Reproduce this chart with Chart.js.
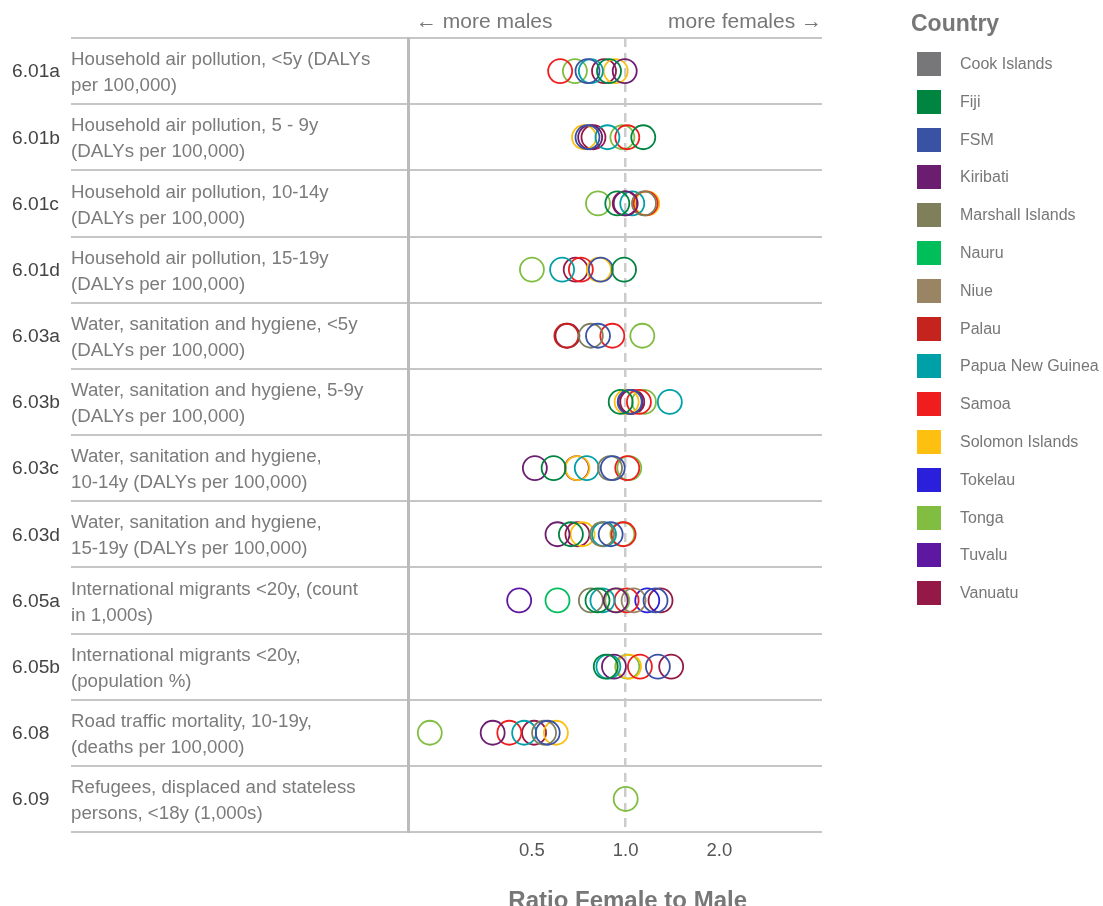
<!DOCTYPE html>
<html>
<head>
<meta charset="utf-8">
<script src="https://cdn.jsdelivr.net/npm/chart.js@4.4.1/dist/chart.umd.min.js"></script>
<style>
  html, body { margin: 0; padding: 0; background: #fff; }
  #wrap { position: relative; width: 1103px; height: 906px; overflow: hidden; font-family: "Liberation Sans", Arial, sans-serif; }
  #chart { position: absolute; left: 0; top: 0; }
  #legend { position: absolute; left: 911px; top: 0; width: 192px; }
  #legend .title { position: absolute; left: 0; top: 10px; font-weight: bold; font-size: 23px; color: #777; white-space: nowrap; }
  #legend .item { position: absolute; left: 6px; height: 24px; white-space: nowrap; }
  #legend .sw { position: absolute; left: 0; top: 0; width: 24px; height: 24px; }
  #legend .lb { position: absolute; left: 43px; top: 3px; font-size: 16px; line-height: 18px; color: #777; }
</style>
</head>
<body>
<div id="wrap">
  <canvas id="chart" width="1103" height="906"></canvas>
  <div id="legend"></div>
</div>
<script>
// ---- categories ----
const CODES = ['6.01a','6.01b','6.01c','6.01d','6.03a','6.03b','6.03c','6.03d','6.05a','6.05b','6.08','6.09'];
const DESCRIPTIONS = [
  ['Household air pollution, <5y (DALYs', 'per 100,000)'],
  ['Household air pollution, 5 - 9y', '(DALYs per 100,000)'],
  ['Household air pollution, 10-14y', '(DALYs per 100,000)'],
  ['Household air pollution, 15-19y', '(DALYs per 100,000)'],
  ['Water, sanitation and hygiene, <5y', '(DALYs per 100,000)'],
  ['Water, sanitation and hygiene, 5-9y', '(DALYs per 100,000)'],
  ['Water, sanitation and hygiene,', '10-14y (DALYs per 100,000)'],
  ['Water, sanitation and hygiene,', '15-19y (DALYs per 100,000)'],
  ['International migrants <20y, (count', 'in 1,000s)'],
  ['International migrants <20y,', '(population %)'],
  ['Road traffic mortality, 10-19y,', '(deaths per 100,000)'],
  ['Refugees, displaced and stateless', 'persons, <18y (1,000s)']
];
const COUNTRIES = ['Cook Islands','Fiji','FSM','Kiribati','Marshall Islands','Nauru','Niue','Palau','Papua New Guinea','Samoa','Solomon Islands','Tokelau','Tonga','Tuvalu','Vanuatu'];
const TICK_VALUES = [0.5, 1, 2];

// ---- series values (ratio female to male), one entry per category ----
const COOK_ISLANDS = [null,null,null,null,null,null,null,null,null,null,null,null];
const FIJI         = [0.884,1.139,0.94,0.988,null,0.964,0.587,0.667,0.812,0.863,null,null];
const FSM          = [0.754,0.754,null,0.832,0.815,1.03,0.909,0.895,1.247,1.269,0.562,null];
const KIRIBATI     = [0.993,0.769,1.0,null,null,1.037,0.511,0.604,0.929,0.917,0.374,null];
const MARSHALL     = [null,null,1.145,null,0.773,null,0.891,0.84,0.773,null,0.547,null];
const NAURU        = [null,null,null,null,null,null,null,null,0.604,null,null,null];
const NIUE         = [null,null,null,null,null,null,null,null,1.06,null,null,null];
const PALAU        = [null,null,null,null,0.645,null,null,null,null,null,null,null];
const PNG          = [0.773,0.874,1.05,0.625,null,1.386,0.75,0.852,0.842,0.88,0.472,null];
const SAMOA        = [0.616,1.012,1.159,0.718,0.906,1.103,1.012,0.985,1.007,1.111,0.423,null];
const SOLOMON      = [0.929,0.735,1.173,0.821,null,1.007,0.70,0.727,null,1.025,0.597,null];
const TOKELAU      = [null,null,null,null,null,null,null,null,1.173,null,null,null];
const TONGA        = [0.687,0.976,0.815,0.5,1.131,1.145,1.027,0.976,0.94,1.012,0.235,1.0];
const TUVALU       = [null,null,null,null,null,null,null,null,0.455,null,null,null];
const VANUATU      = [0.852,0.788,0.993,0.691,0.65,1.05,0.697,0.70,1.294,1.4,0.508,null];

const SERIES = [COOK_ISLANDS,FIJI,FSM,KIRIBATI,MARSHALL,NAURU,NIUE,PALAU,PNG,SAMOA,SOLOMON,TOKELAU,TONGA,TUVALU,VANUATU];

// ---- styles ----
const COLORS = ['#77777a','#008540','#3a52a4','#6b1e6f','#7f805b','#00bf5b','#998463','#c4241d','#00a0a8','#ef1d1d','#fdc010','#2a20db','#80bd41','#5e17a1','#951946'];
const FONT = '"Liberation Sans", Arial, sans-serif';

const datasets = COUNTRIES.map((name, k) => ({
  label: name,
  data: SERIES[k].map((v, i) => v == null ? null : { x: v, y: CODES[i] }).filter(Boolean),
  borderColor: COLORS[k],
  backgroundColor: 'rgba(0,0,0,0)',
  pointRadius: 12,
  pointBorderWidth: 1.8,
  pointHoverRadius: 12,
  showLine: false
}));

const labelsPlugin = {
  id: 'rowLabels',
  afterDraw(chart) {
    const ctx = chart.ctx;
    const ys = chart.scales.y;
    const xs = chart.scales.x;
    ctx.save();
    ctx.textBaseline = 'middle';
    CODES.forEach((code, i) => {
      const y = ys.getPixelForValue(i);
      ctx.fillStyle = '#444';
      ctx.font = '19.2px ' + FONT;
      ctx.textAlign = 'left';
      ctx.fillText(code, 12, y + 1);
      ctx.fillStyle = '#7b7b7b';
      ctx.font = '18.7px ' + FONT;
      ctx.fillText(DESCRIPTIONS[i][0], 71, y - 11);
      ctx.fillText(DESCRIPTIONS[i][1], 71, y + 15);
    });
    ctx.fillStyle = '#777';
    ctx.font = '21px ' + FONT;
    ctx.textAlign = 'left';
    ctx.fillText('\u2190 more males', 416, 22);
    ctx.textAlign = 'right';
    ctx.fillText('more females \u2192', chart.chartArea.right, 22);
    // axis title
    ctx.font = 'bold 24px ' + FONT;
    ctx.textAlign = 'center';
    ctx.textBaseline = 'alphabetic';
    ctx.fillText('Ratio Female to Male', xs.getPixelForValue(1) + 2, 908);
    ctx.restore();
  }
};

new Chart(document.getElementById('chart'), {
  type: 'scatter',
  data: { datasets },
  plugins: [labelsPlugin],
  options: {
    responsive: false,
    animation: false,
    events: [],
    layout: { padding: { left: 71, right: 281, top: 38, bottom: 0 } },
    plugins: { legend: { display: false }, tooltip: { enabled: false } },
    scales: {
      x: {
        type: 'logarithmic',
        min: 0.2,
        max: 4.27,
        afterBuildTicks: (s) => { s.ticks = TICK_VALUES.map(v => ({ value: v })); },
        afterFit: (s) => { s.height = 74; },
        ticks: {
          color: '#555',
          font: { family: FONT, size: 18.5 },
          padding: 8,
          maxRotation: 0,
          autoSkip: false,
          callback: (v) => Number(v).toFixed(1)
        },
        grid: {
          drawTicks: false,
          lineWidth: 2.5,
          color: (c) => (c.tick && c.tick.value === 1) ? '#cccccc' : 'rgba(0,0,0,0)'
        },
        border: { display: false, dash: [9, 6] },
        title: { display: false }
      },
      y: {
        type: 'category',
        labels: CODES,
        offset: true,
        afterFit: (s) => { s.width = 337; },
        ticks: { display: false },
        grid: {
          offset: true,
          drawTicks: true,
          tickLength: 337,
          color: '#c6c6c6',
          lineWidth: 2
        },
        border: { display: true, color: '#bbbbbb', width: 3 }
      }
    }
  }
});

// ---- HTML legend ----
const lg = document.getElementById('legend');
const t = document.createElement('div');
t.className = 'title';
t.textContent = 'Country';
lg.appendChild(t);
COUNTRIES.forEach((name, k) => {
  const it = document.createElement('div');
  it.className = 'item';
  it.style.top = (52 + k * 37.8) + 'px';
  const sw = document.createElement('div');
  sw.className = 'sw';
  sw.style.background = COLORS[k];
  const lb = document.createElement('div');
  lb.className = 'lb';
  lb.textContent = name;
  it.appendChild(sw);
  it.appendChild(lb);
  lg.appendChild(it);
});
</script>
</body>
</html>
